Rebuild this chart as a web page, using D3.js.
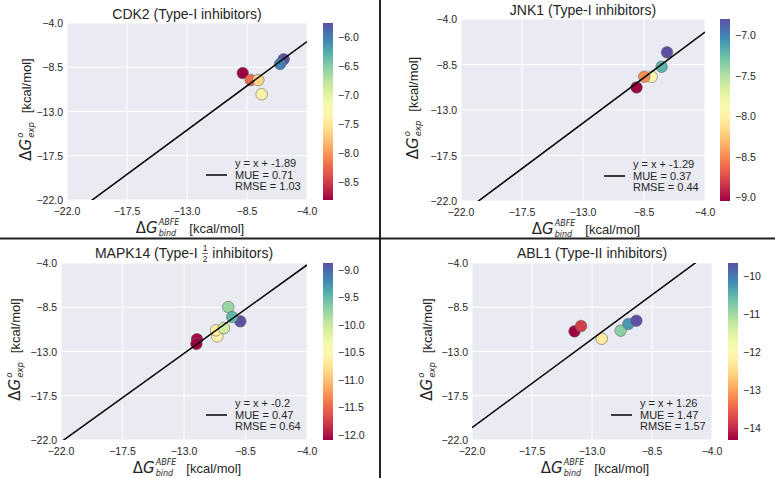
<!DOCTYPE html>
<html>
<head>
<meta charset="utf-8">
<script src="https://cdn.jsdelivr.net/npm/d3@7"></script>
<style>
  body { margin: 0; background: #fff; }
  svg { display: block; font-family: "Liberation Sans", Arial, sans-serif; }
</style>
</head>
<body>
<div id="chart"></div>
<script>
// Data
const axisTicks = [-22, -17.5, -13, -8.5, -4]
const titles = ["CDK2 (Type-I inhibitors)", "JNK1 (Type-I inhibitors)", "MAPK14 (Type-I", "ABL1 (Type-II inhibitors)"]

const cdk2X = [-5.75, -6.02, -8.82, -8.22, -7.65, -7.40]
const cdk2Y = [-7.69, -8.17, -9.09, -9.80, -9.80, -11.25]

const jnk1X = [-6.80, -7.20, -9.05, -7.94, -8.48]
const jnk1Y = [-7.30, -8.72, -10.77, -9.71, -9.71]

const mapkX = [-12.05, -12.09, -10.56, -10.66, -10.08, -8.88, -9.76, -9.47]
const mapkY = [-11.75, -12.22, -11.46, -10.85, -10.61, -9.93, -8.48, -9.49]

const abl1X = [-14.31, -13.82, -12.27, -10.85, -10.27, -9.67]
const abl1Y = [-10.95, -10.41, -11.70, -10.88, -10.20, -9.87]

const offsets = [-1.89, -1.29, -0.2, 1.26]
const mues = [0.71, 0.37, 0.47, 1.47]
const rmses = [1.03, 0.44, 0.64, 1.57]
const cbTicks = [
    [-8.5, -8, -7.5, -7, -6.5, -6],
    [-9, -8.5, -8, -7.5, -7],
    [-12, -11.5, -11, -10.5, -10, -9.5, -9],
    [-14, -13, -12, -11, -10]
]
const cbDigits = [1, 1, 1, 0]

const xs = [cdk2X, jnk1X, mapkX, abl1X]
const ys = [cdk2Y, jnk1Y, mapkY, abl1Y]

// Layout of each panel (pixels)
const boxes = [
    {l: 67, r: 307, t: 23, b: 200, cb: 323, ylab: 26, tity: 14},
    {l: 461, r: 705, t: 19, b: 201, cb: 720, ylab: 413, tity: 10},
    {l: 61, r: 307, t: 263, b: 440, cb: 323, ylab: 15, tity: 253},
    {l: 472, r: 712, t: 263, b: 440, cb: 728, ylab: 427, tity: 253}
]

const W = 775, H = 478
const ink = "#262626"
const minus = s => s.replace("-", "\u2212")

const svg = d3.select("#chart").append("svg")
    .attr("width", W)
    .attr("height", H)

const defs = svg.append("defs")

// Lay out a run of text pieces left to right, return total width
function runs(g, items) {
    let x = 0
    items.forEach(it => {
        const parts = it.stack || [it]
        let w = 0
        parts.forEach(p => {
            const t = g.append("text")
                .attr("x", x)
                .attr("y", p.dy || 0)
                .attr("dominant-baseline", "central")
                .attr("font-size", p.size)
                .attr("font-style", p.italic ? "italic" : "normal")
                .attr("font-family", p.math ? "'DejaVu Sans', sans-serif" : null)
                .attr("fill", ink)
                .text(p.text)
            w = Math.max(w, t.node().getComputedTextLength())
        })
        if (it.bar !== undefined) {
            g.append("line")
                .attr("x1", x - 0.5).attr("x2", x + w + 0.5)
                .attr("y1", it.bar).attr("y2", it.bar)
                .attr("stroke", ink).attr("stroke-width", 0.7)
        }
        x += w + (it.pad || 0)
    })
    return x
}

function centred(parent, x, y, rotate, items) {
    const outer = parent.append("g")
        .attr("transform", `translate(${x},${y})` + (rotate ? " rotate(-90)" : ""))
    const inner = outer.append("g")
    const w = runs(inner, items)
    inner.attr("transform", `translate(${-w / 2},0)`)
}

boxes.forEach((bx, i) => {
    const g = svg.append("g")
    const X = d3.scaleLinear().domain([-22, -4]).range([bx.l, bx.r])
    const Y = d3.scaleLinear().domain([-22, -4]).range([bx.b, bx.t])
    const ext = d3.extent(xs[i])
    const color = d3.scaleSequential(d3.interpolateSpectral).domain(ext)

    // background + grid
    g.append("rect")
        .attr("x", bx.l).attr("y", bx.t)
        .attr("width", bx.r - bx.l).attr("height", bx.b - bx.t)
        .attr("fill", "#eaeaf2")
    g.selectAll(".gx").data(axisTicks).join("line")
        .attr("x1", d => X(d)).attr("x2", d => X(d))
        .attr("y1", bx.t).attr("y2", bx.b)
        .attr("stroke", "#fff").attr("stroke-width", 1)
    g.selectAll(".gy").data(axisTicks).join("line")
        .attr("y1", d => Y(d)).attr("y2", d => Y(d))
        .attr("x1", bx.l).attr("x2", bx.r)
        .attr("stroke", "#fff").attr("stroke-width", 1)

    // tick labels
    g.append("g").selectAll("text").data(axisTicks).join("text")
        .attr("x", d => X(d)).attr("y", bx.b + 11)
        .attr("text-anchor", "middle").attr("dominant-baseline", "central")
        .attr("font-size", 10.5).attr("fill", ink)
        .text(d => minus(d3.format(".1f")(d)))
    g.append("g").selectAll("text").data(axisTicks).join("text")
        .attr("x", bx.l - 4).attr("y", d => Y(d))
        .attr("text-anchor", "end").attr("dominant-baseline", "central")
        .attr("font-size", 10.5).attr("fill", ink)
        .text(d => minus(d3.format(".1f")(d)))

    // points
    const clipId = "clip" + i
    defs.append("clipPath").attr("id", clipId)
        .append("rect")
        .attr("x", bx.l).attr("y", bx.t)
        .attr("width", bx.r - bx.l).attr("height", bx.b - bx.t)

    g.append("g").selectAll("circle").data(d3.range(xs[i].length)).join("circle")
        .attr("cx", k => X(xs[i][k]))
        .attr("cy", k => Y(ys[i][k]))
        .attr("r", 5.8)
        .attr("fill", k => color(xs[i][k]))
        .attr("stroke", "#666")
        .attr("stroke-width", 0.6)

    // fit line y = x + b
    const b = offsets[i]
    g.append("line")
        .attr("clip-path", `url(#${clipId})`)
        .attr("x1", X(-22)).attr("y1", Y(-22 + b))
        .attr("x2", X(-4)).attr("y2", Y(-4 + b))
        .attr("stroke", "#000").attr("stroke-width", 1.5)

    // legend
    const lx = bx.r - 72
    g.append("line")
        .attr("x1", lx - 29).attr("x2", lx - 8)
        .attr("y1", bx.b - 25).attr("y2", bx.b - 25)
        .attr("stroke", "#000").attr("stroke-width", 1.5)
    const legendText = [`y = x + ${b}`, `MUE = ${mues[i].toFixed(2)}`, `RMSE = ${rmses[i].toFixed(2)}`]
    g.append("g").selectAll("text").data(legendText).join("text")
        .attr("x", lx).attr("y", (d, k) => bx.b - 37 + k * 11.5)
        .attr("dominant-baseline", "central")
        .attr("font-size", 11).attr("fill", ink)
        .text(d => d)

    // colorbar
    const gid = "grad" + i
    const grad = defs.append("linearGradient").attr("id", gid)
        .attr("x1", 0).attr("y1", 1).attr("x2", 0).attr("y2", 0)
    d3.range(0, 1.0001, 0.05).forEach(t => {
        grad.append("stop").attr("offset", t).attr("stop-color", d3.interpolateSpectral(t))
    })
    g.append("rect")
        .attr("x", bx.cb).attr("y", bx.t)
        .attr("width", 10).attr("height", bx.b - bx.t)
        .attr("fill", `url(#${gid})`)
    const C = d3.scaleLinear().domain(ext).range([bx.b, bx.t])
    g.append("g").selectAll("text").data(cbTicks[i]).join("text")
        .attr("x", bx.cb + 15).attr("y", d => C(d))
        .attr("dominant-baseline", "central")
        .attr("font-size", 10.5).attr("fill", ink)
        .text(d => minus(d3.format("." + cbDigits[i] + "f")(d)))

    // title
    const cx = (bx.l + bx.r) / 2
    if (i == 2) {
        centred(g, cx, bx.tity, false, [
            {text: titles[i], size: 14, pad: 5},
            {stack: [{text: "1", size: 8.5, dy: -5}, {text: "2", size: 8.5, dy: 5.5}], bar: 0.5, pad: 5},
            {text: "inhibitors)", size: 14}
        ])
    } else {
        centred(g, cx, bx.tity, false, [{text: titles[i], size: 14}])
    }

    // axis labels
    centred(g, cx + 3, bx.b + 28, false, [
        {text: "\u0394", size: 15, math: true},
        {text: "G", size: 15, italic: true, math: true, pad: 1},
        {stack: [{text: "ABFE", size: 8, italic: true, math: true, dy: -6},
                 {text: "bind", size: 8, italic: true, math: true, dy: 5}], pad: 10},
        {text: "[kcal/mol]", size: 13}
    ])
    centred(g, bx.ylab, (bx.t + bx.b) / 2 - 2, true, [
        {text: "\u0394", size: 15, math: true},
        {text: "G", size: 15, italic: true, math: true, pad: 1},
        {stack: [{text: "o", size: 8.5, italic: true, math: true, dy: -6},
                 {text: "exp", size: 8.5, italic: true, math: true, dy: 5}], pad: 9},
        {text: "[kcal/mol]", size: 13}
    ])
})

// panel dividers
svg.append("line")
    .attr("x1", 380).attr("x2", 380).attr("y1", 0).attr("y2", H)
    .attr("stroke", "#222").attr("stroke-width", 2)
svg.append("line")
    .attr("x1", 0).attr("x2", W).attr("y1", 238.5).attr("y2", 238.5)
    .attr("stroke", "#222").attr("stroke-width", 2)
</script>
</body>
</html>
